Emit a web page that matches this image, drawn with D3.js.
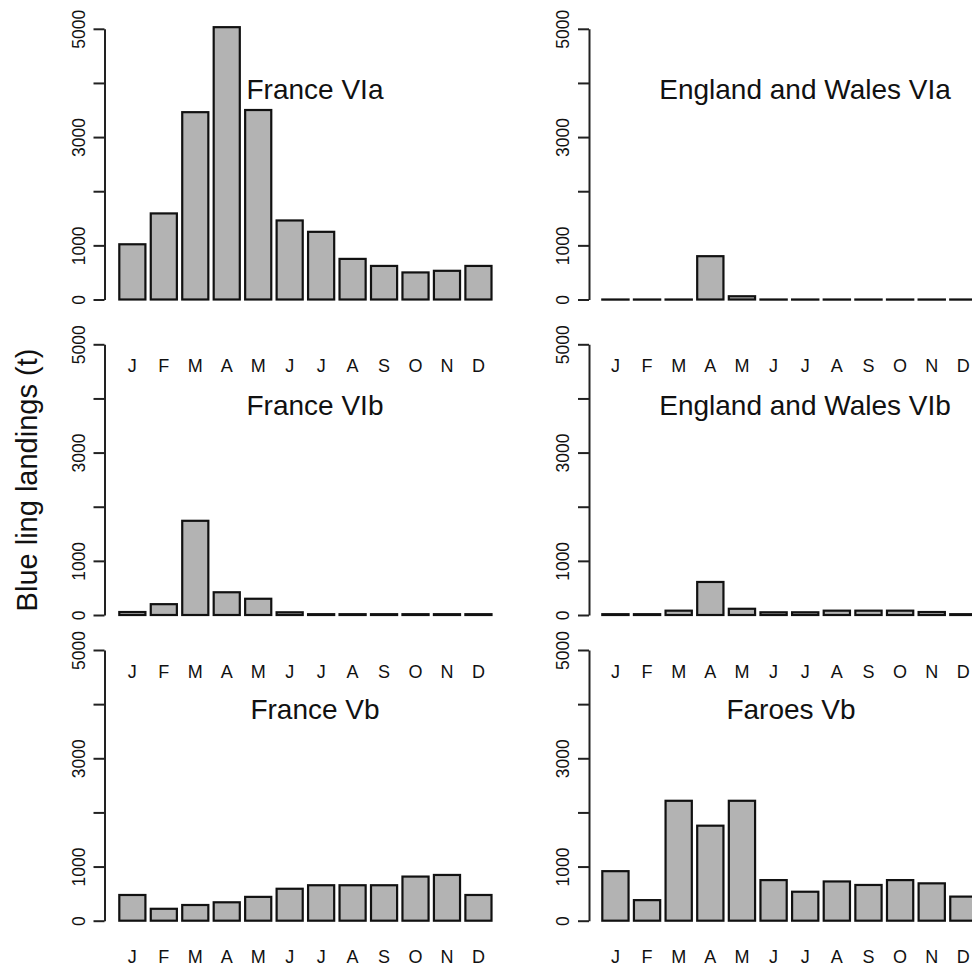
<!DOCTYPE html>
<html>
<head>
<meta charset="utf-8">
<script src="https://cdn.jsdelivr.net/npm/d3@7"></script>
<style>
  body { margin: 0; background: #fff; }
  text { font-family: "Liberation Sans", Arial, Helvetica, sans-serif; fill: #111; }
</style>
</head>
<body>
<div id="chart"></div>
<script>
// month labels (x categories)
var months = ["J", "F", "M", "A", "M", "J", "J", "A", "S", "O", "N", "D"];

// landings per month (t)
var franceVIa       = [1020, 1590, 3460, 5030, 3500, 1460, 1250, 750, 620, 500, 530, 620];
var englandWalesVIa = [0, 0, 0, 800, 60, 0, 0, 0, 0, 0, 0, 0];
var franceVIb       = [55, 200, 1740, 420, 300, 50, 15, 15, 15, 15, 15, 15];
var englandWalesVIb = [15, 15, 80, 610, 115, 50, 50, 80, 80, 80, 55, 15];
var franceVb        = [475, 220, 290, 340, 440, 590, 655, 655, 655, 815, 845, 475];
var faroesVb        = [915, 380, 2215, 1755, 2215, 750, 535, 725, 660, 750, 690, 445];

var tickValues = [0, 1000, 2000, 3000, 4000, 5000];
var tickLabels = [0, 1000, 3000, 5000];

// panel layout: column / row geometry
var cols = [
    { axisX: 104.5, barL: 119.3, barR: 491.5 },
    { axisX: 589, barL: 602.3, barR: 976.5 }
];
var rows = [
    { zeroY: 299.5, monthY: 365, titleY: 98.7 },
    { zeroY: 615, monthY: 671, titleY: 415 },
    { zeroY: 920.7, monthY: 956, titleY: 719 }
];
var panels = [
    { title: "France VIa", values: franceVIa, col: 0, row: 0, titleX: 315 },
    { title: "England and Wales VIa", values: englandWalesVIa, col: 1, row: 0, titleX: 805 },
    { title: "France VIb", values: franceVIb, col: 0, row: 1, titleX: 315 },
    { title: "England and Wales VIb", values: englandWalesVIb, col: 1, row: 1, titleX: 805 },
    { title: "France Vb", values: franceVb, col: 0, row: 2, titleX: 315 },
    { title: "Faroes Vb", values: faroesVb, col: 1, row: 2, titleX: 791 }
];

var W = 972, H = 967, axisH = 270.7;

var svg = d3.select("#chart")
    .append("svg")
    .attr("width", W)
    .attr("height", H);

panels.forEach(function (p) {
    var c = cols[p.col], r = rows[p.row];

    var xScale = d3.scaleBand()
        .domain(d3.range(months.length))
        .range([c.barL, c.barR])
        .paddingInner(0.17)
        .paddingOuter(0);

    var yScale = d3.scaleLinear()
        .domain([0, 5000])
        .range([r.zeroY, r.zeroY - axisH]);

    var g = svg.append("g");

    // y axis, R style: only some labels, rotated
    var yAxis = d3.axisLeft(yScale)
        .tickValues(tickValues)
        .tickSizeInner(11)
        .tickSizeOuter(0)
        .tickFormat(function (d) { return tickLabels.indexOf(d) >= 0 ? d : ""; });

    var ax = g.append("g")
        .attr("transform", `translate(${c.axisX},0)`)
        .call(yAxis);
    ax.select(".domain").attr("stroke", "#222").attr("stroke-width", 2);
    ax.selectAll(".tick line").attr("stroke", "#222").attr("stroke-width", 2);
    ax.selectAll(".tick text")
        .attr("transform", "rotate(-90)")
        .attr("x", 0)
        .attr("y", -20)
        .attr("dy", null)
        .attr("text-anchor", "middle")
        .style("font-family", '"Liberation Sans", Arial, sans-serif')
        .style("font-size", "17.5px")
        .attr("fill", "#111");

    // bars
    g.selectAll("rect.bar")
        .data(p.values)
        .enter()
        .append("rect")
        .attr("class", "bar")
        .attr("x", function (d, i) { return xScale(i); })
        .attr("y", function (d) { return yScale(d); })
        .attr("width", xScale.bandwidth())
        .attr("height", function (d) { return Math.max(r.zeroY - yScale(d), 0.1); })
        .attr("fill", "#b3b3b3")
        .attr("stroke", "#111")
        .attr("stroke-width", 2.2);

    // month labels
    g.selectAll("text.month")
        .data(months)
        .enter()
        .append("text")
        .attr("class", "month")
        .attr("x", function (d, i) { return xScale(i) + xScale.bandwidth() / 2; })
        .attr("y", r.monthY + 6.5)
        .attr("text-anchor", "middle")
        .style("font-size", "18px")
        .text(function (d) { return d; });

    // panel title
    g.append("text")
        .attr("x", p.titleX)
        .attr("y", r.titleY)
        .attr("text-anchor", "middle")
        .style("font-size", "28px")
        .text(p.title);
});

// shared y label
svg.append("text")
    .attr("transform", "translate(37,480) rotate(-90)")
    .attr("text-anchor", "middle")
    .style("font-size", "29px")
    .text("Blue ling landings (t)");
</script>
</body>
</html>
